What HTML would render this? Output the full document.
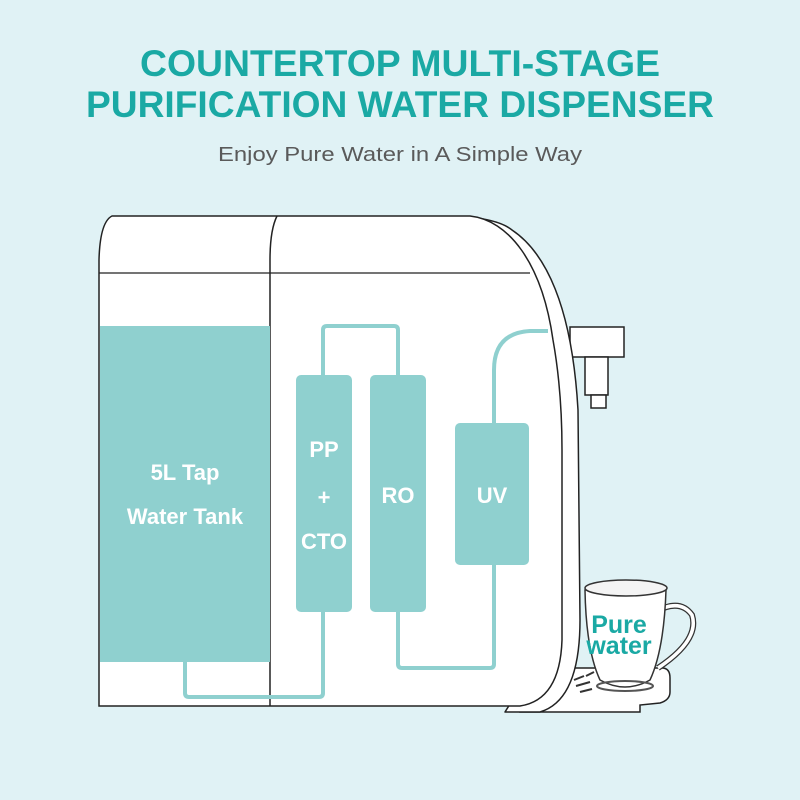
<!DOCTYPE html>
<html><head><meta charset="utf-8"><style>
html,body{margin:0;padding:0;background:#e0f2f5;}
svg{display:block}
text{font-family:"Liberation Sans",sans-serif}
</style></head><body>
<svg width="800" height="800" viewBox="0 0 800 800" xmlns="http://www.w3.org/2000/svg">
<rect width="800" height="800" fill="#e0f2f5"/>
<text x="400" y="76" text-anchor="middle" font-size="37" font-weight="bold" fill="#1aa9a4" textLength="520" lengthAdjust="spacingAndGlyphs">COUNTERTOP MULTI-STAGE</text>
<text x="400" y="117" text-anchor="middle" font-size="37" font-weight="bold" fill="#1aa9a4" textLength="628" lengthAdjust="spacingAndGlyphs">PURIFICATION WATER DISPENSER</text>
<text x="400" y="161" text-anchor="middle" font-size="20" fill="#5a5a5a" textLength="364" lengthAdjust="spacingAndGlyphs">Enjoy Pure Water in A Simple Way</text>

<!-- tray -->
<path d="M530 668 L662 668 Q670 668 670 678 L670 692 Q670 700 660 703 L640 705 L640 712 L520 712 L520 668 Z" fill="#fff" stroke="#222" stroke-width="1.5"/>
<!-- spout -->
<rect x="570" y="327" width="54" height="30" fill="#fff" stroke="#222" stroke-width="1.5"/>
<rect x="585" y="357" width="23" height="38" fill="#fff" stroke="#222" stroke-width="1.5"/>
<rect x="591" y="395" width="15" height="13" fill="#fff" stroke="#222" stroke-width="1.5"/>

<!-- cup -->
<path d="M655 612 Q680 598 692 615 Q700 640 658 668" fill="none" stroke="#333" stroke-width="6"/>
<path d="M655 612 Q680 598 692 615 Q700 640 658 668" fill="none" stroke="#fff" stroke-width="3.5"/>
<path d="M585 590 L666 590 Q664 650 650 680 Q625 694 600 680 Q586 650 585 590 Z" fill="#fff" stroke="#333" stroke-width="1.5"/>
<ellipse cx="626" cy="588" rx="41" ry="8" fill="#f4f4f4" stroke="#333" stroke-width="1.5"/>
<ellipse cx="625" cy="686" rx="28" ry="5" fill="none" stroke="#555" stroke-width="2"/>
<text x="619" y="633" text-anchor="middle" font-size="25" font-weight="bold" fill="#1aa9a4">Pure</text>
<text x="619" y="654" text-anchor="middle" font-size="25" font-weight="bold" fill="#1aa9a4">water</text>
<g stroke="#333" stroke-width="2">
<line x1="574" y1="680" x2="584" y2="676"/><line x1="576" y1="686" x2="590" y2="682"/><line x1="580" y1="692" x2="592" y2="689"/><line x1="586" y1="676" x2="594" y2="672"/>
</g>

<!-- rim -->
<path d="M468 217 Q500 220 512 230 C545 252 572 305 578 410 L580 620 Q580 700 540 712 L505 712 L510 704 L470 217 Z" fill="#fff" stroke="#222" stroke-width="1.5" stroke-linejoin="round"/>
<!-- body -->
<path d="M112 216 L470 216 C508 220 542 262 553 340 Q562 390 562 450 L562 640 Q560 700 520 706 L99 706 L99 260 Q100 222 112 216 Z" fill="#fff" stroke="#222" stroke-width="1.5"/>
<path d="M277 216 Q270 230 270 260 L270 706" fill="none" stroke="#222" stroke-width="1.5"/>
<line x1="99" y1="273" x2="530" y2="273" stroke="#222" stroke-width="1.2"/>

<!-- tank -->
<rect x="100" y="326" width="170" height="336" fill="#8fd0cf"/>
<text x="185" y="480" text-anchor="middle" font-size="22" font-weight="bold" fill="#fff">5L Tap</text>
<text x="185" y="524" text-anchor="middle" font-size="22" font-weight="bold" fill="#fff">Water Tank</text>

<!-- pipes -->
<g fill="none" stroke="#8fd0cf" stroke-width="4">
<path d="M185 662 L185 693 Q185 697 189 697 L319 697 Q323 697 323 693 L323 612"/>
<path d="M323 375 L323 330 Q323 326 327 326 L394 326 Q398 326 398 330 L398 375"/>
<path d="M398 612 L398 664 Q398 668 402 668 L490 668 Q494 668 494 664 L494 565"/>
<path d="M494 423 L494 370 Q494 333 530 331 L548 331"/>
</g>

<!-- filters -->
<rect x="296" y="375" width="56" height="237" rx="5" fill="#8fd0cf"/>
<rect x="370" y="375" width="56" height="237" rx="5" fill="#8fd0cf"/>
<rect x="455" y="423" width="74" height="142" rx="5" fill="#8fd0cf"/>
<g font-size="22" font-weight="bold" fill="#fff" text-anchor="middle">
<text x="324" y="457">PP</text>
<text x="324" y="505">+</text>
<text x="324" y="549">CTO</text>
<text x="398" y="503">RO</text>
<text x="492" y="503">UV</text>
</g>
</svg>
</body></html>
